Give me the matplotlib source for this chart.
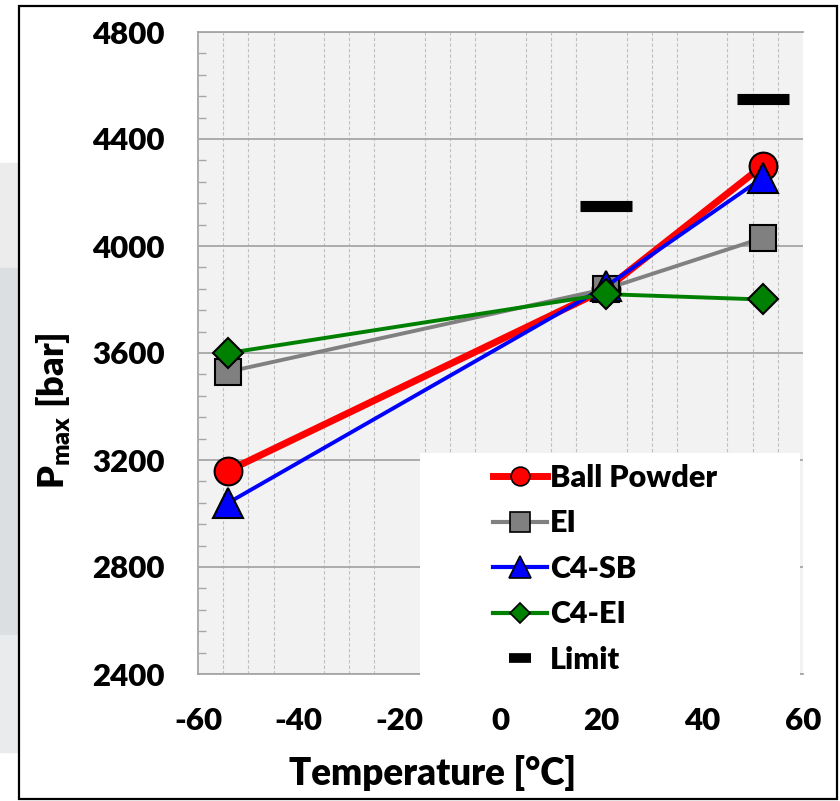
import matplotlib
matplotlib.use("Agg")
import matplotlib.pyplot as plt
from matplotlib.lines import Line2D
from matplotlib.patches import Rectangle
from matplotlib.ticker import MultipleLocator

plt.rcParams['font.family'] = ['Lato', 'DejaVu Sans']
plt.rcParams['font.weight'] = 'heavy'
plt.rcParams['axes.unicode_minus'] = False
plt.rcParams['mathtext.fontset'] = 'custom'
plt.rcParams['mathtext.rm'] = 'Lato:heavy'
plt.rcParams['mathtext.bf'] = 'Lato:heavy'

# data
temps = [-54, 21, 52]
ball_powder = [3160, 3840, 4300]
ei = [3530, 3840, 4030]
c4_sb = [3040, 3850, 4255]
c4_ei = [3600, 3820, 3800]
limit_temps = [21, 52]
limits = [4150, 4550]

x_ticks = [-60, -40, -20, 0, 20, 40, 60]
y_ticks = [2400, 2800, 3200, 3600, 4000, 4400, 4800]

W, H = 840, 801
fig = plt.figure(figsize=(W / 100, H / 100), dpi=100)

# screenshot leftovers on the left and the outer frame
for y0, y1, c in [(163, 268, '#ececec'), (268, 635, '#dcdfe2'), (635, 752, '#eaebed')]:
    fig.patches.append(Rectangle((0, 1 - y1 / H), 18 / W, (y1 - y0) / H,
                                 transform=fig.transFigure, color=c, zorder=0))
fig.patches.append(Rectangle((19 / W, 1 - 799 / H), (837 - 19) / W, (799 - 6) / H,
                             transform=fig.transFigure, fill=False,
                             edgecolor='black', linewidth=1.6, zorder=1))

ax = fig.add_axes([198 / W, 1 - 674 / H, (803 - 198) / W, (674 - 32) / H])
ax.set_facecolor('#f2f2f2')
ax.set_axisbelow(True)

ax.plot(temps, ball_powder, color='red', lw=5, marker='o', ms=20,
        mfc='red', mec='black', mew=1.5, zorder=4)
ax.plot(temps, ei, color='#808080', lw=2.8, marker='s', ms=19,
        mfc='#808080', mec='black', mew=1.5, zorder=5)
ax.plot(temps, c4_sb, color='blue', lw=2.8, marker='^', ms=21.5,
        mfc='blue', mec='black', mew=1.5, zorder=6)
ax.plot(temps, c4_ei, color='green', lw=2.8, marker='D', ms=15,
        mfc='green', mec='black', mew=1.5, zorder=7)
ax.plot(limit_temps, limits, ls='none', marker='_', ms=38, mew=8,
        color='black', zorder=8)

ax.set_xlim(-60, 60)
ax.set_ylim(2400, 4800)
ax.set_xticks(x_ticks)
ax.set_yticks(y_ticks)
ax.xaxis.set_minor_locator(MultipleLocator(5))
ax.yaxis.set_minor_locator(MultipleLocator(80))

ax.grid(axis='y', which='major', color='#a6a6a6', lw=1.3)
ax.grid(axis='x', which='minor', color='#bfbfbf', lw=0.8, ls=(0, (3, 2)))

ax.tick_params(axis='both', which='major', length=0, labelsize=22.5)
ax.tick_params(axis='x', which='major', pad=24)
ax.tick_params(axis='y', which='major', pad=24)
ax.tick_params(axis='x', which='minor', length=0)
ax.tick_params(axis='y', which='minor', direction='in', length=5.5,
               width=1, color='#a6a6a6')

for side in ['left', 'top', 'bottom']:
    ax.spines[side].set_color('#a6a6a6')
    ax.spines[side].set_linewidth(1.3)
ax.spines['right'].set_visible(False)

# white legend area covering the lower right corner
ax.add_patch(Rectangle((0.367, -0.005), 0.628, 0.35, transform=ax.transAxes,
                       facecolor='white', edgecolor='none', zorder=3, clip_on=False))

handles = [
    Line2D([], [], color='red', lw=5, marker='o', ms=13.5, mfc='red', mec='black', mew=1.2),
    Line2D([], [], color='#808080', lw=3, marker='s', ms=14, mfc='#808080', mec='black', mew=1.2),
    Line2D([], [], color='blue', lw=3, marker='^', ms=15.5, mfc='blue', mec='black', mew=1.2),
    Line2D([], [], color='green', lw=3, marker='D', ms=10, mfc='green', mec='black', mew=1.2),
    Line2D([], [], ls='none', marker='_', ms=16, mew=7, color='black'),
]
labels = ['Ball Powder', 'EI', 'C4-SB', 'C4-EI', 'Limit']
leg = ax.legend(handles, labels, loc='upper left', bbox_to_anchor=(0.487, 0.327),
                frameon=False, fontsize=22, handlelength=1.77, handletextpad=0.11,
                labelspacing=0.57, borderpad=0, borderaxespad=0)
leg.set_zorder(9)

fig.text(433 / W, 1 - 785 / H, 'Temperature [°C]', ha='center', va='baseline',
         fontsize=26.5)
fig.text(53 / W, 1 - 411 / H, r'P$_{\rm max}$ [bar]', ha='center', va='center',
         rotation=90, fontsize=26)

fig.savefig('out.png', dpi=100)
